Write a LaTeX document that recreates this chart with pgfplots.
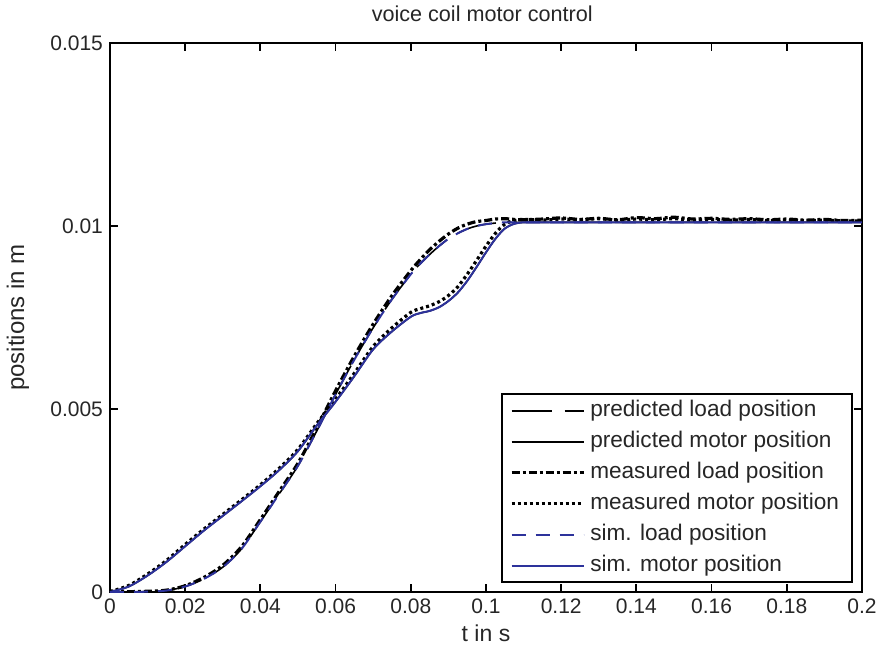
\documentclass[border=0pt]{standalone}
\usepackage{pgfplots}
\usepackage{pgfplotstable}
\pgfplotsset{compat=1.18}
\usepackage{fontspec}
\setmainfont{Liberation Sans}
\definecolor{simblue}{RGB}{45,50,155}

% t, predicted load, predicted motor, measured load, measured motor, sim load, sim motor
\pgfplotstableread{
t      pl       pm       ml       mm       sl       sm
0.000  0.00000  0.00000  0.00002  0.00001  0.00000  0.00000
0.005  0.00000  0.00015  0.00001  0.00018  0.00000  0.00015
0.010  0.00001  0.00045  0.00002  0.00049  0.00001  0.00045
0.015  0.00004  0.00082  0.00005  0.00086  0.00004  0.00082
0.020  0.00015  0.00125  0.00017  0.00130  0.00015  0.00125
0.025  0.00036  0.00168  0.00040  0.00172  0.00036  0.00168
0.030  0.00068  0.00208  0.00073  0.00212  0.00068  0.00208
0.035  0.00118  0.00248  0.00124  0.00252  0.00118  0.00248
0.040  0.00192  0.00289  0.00198  0.00293  0.00192  0.00289
0.045  0.00268  0.00333  0.00275  0.00338  0.00268  0.00333
0.050  0.00345  0.00385  0.00352  0.00390  0.00345  0.00385
0.055  0.00440  0.00455  0.00448  0.00460  0.00440  0.00455
0.060  0.00540  0.00520  0.00550  0.00527  0.00540  0.00520
0.065  0.00635  0.00590  0.00645  0.00598  0.00635  0.00590
0.070  0.00722  0.00663  0.00732  0.00671  0.00722  0.00663
0.075  0.00800  0.00712  0.00810  0.00722  0.00800  0.00712
0.080  0.00868  0.00752  0.00878  0.00764  0.00868  0.00752
0.0825 0.00897  0.00762  0.00908  0.00774  0.00897  0.00762
0.085  0.00922  0.00768  0.00935  0.00782  0.00922  0.00768
0.0875 0.00945  0.00778  0.00958  0.00793  0.00945  0.00778
0.090  0.00965  0.00795  0.00978  0.00810  0.00965  0.00795
0.0925 0.00980  0.00818  0.00994  0.00834  0.00980  0.00818
0.095  0.00992  0.00850  0.01005  0.00868  0.00992  0.00850
0.0975 0.01000  0.00888  0.01012  0.00906  0.01000  0.00888
0.100  0.01005  0.00928  0.01015  0.00945  0.01005  0.00928
0.1025 0.01008  0.00965  0.01019  0.00980  0.01008  0.00965
0.105  0.01010  0.00993  0.01020  0.01005  0.01010  0.00993
0.1075 0.01010  0.01006  0.01018  0.01015  0.01010  0.01006
0.110  0.01010  0.01010  0.01017  0.01018  0.01010  0.01010
0.115  0.01010  0.01010  0.01019  0.01016  0.01010  0.01010
0.120  0.01010  0.01010  0.01022  0.01019  0.01010  0.01010
0.125  0.01010  0.01010  0.01018  0.01017  0.01010  0.01010
0.130  0.01010  0.01010  0.01021  0.01020  0.01010  0.01010
0.135  0.01010  0.01010  0.01017  0.01016  0.01010  0.01010
0.140  0.01010  0.01010  0.01023  0.01019  0.01010  0.01010
0.145  0.01010  0.01010  0.01020  0.01017  0.01010  0.01010
0.150  0.01010  0.01010  0.01024  0.01020  0.01010  0.01010
0.155  0.01010  0.01010  0.01019  0.01016  0.01010  0.01010
0.160  0.01010  0.01010  0.01021  0.01018  0.01010  0.01010
0.165  0.01010  0.01010  0.01018  0.01016  0.01010  0.01010
0.170  0.01010  0.01010  0.01020  0.01018  0.01010  0.01010
0.175  0.01010  0.01010  0.01017  0.01015  0.01010  0.01010
0.180  0.01010  0.01010  0.01019  0.01017  0.01010  0.01010
0.185  0.01010  0.01010  0.01016  0.01014  0.01010  0.01010
0.190  0.01010  0.01010  0.01018  0.01016  0.01010  0.01010
0.195  0.01010  0.01010  0.01015  0.01014  0.01010  0.01010
0.200  0.01010  0.01010  0.01016  0.01014  0.01010  0.01010
}\data

\begin{document}
\begin{tikzpicture}
\useasboundingbox (-55pt,-29pt) rectangle (384.5pt,296pt);
\begin{axis}[
  scale only axis, width=376pt, height=274.5pt,
  xmin=0, xmax=0.2, ymin=0, ymax=0.015,
  xtick={0,0.02,0.04,0.06,0.08,0.1,0.12,0.14,0.16,0.18,0.2},
  xticklabels={0,0.02,0.04,0.06,0.08,0.1,0.12,0.14,0.16,0.18,0.2},
  ytick={0,0.005,0.01,0.015},
  yticklabels={0,0.005,0.01,0.015},
  scaled ticks=false,
  tick align=inside, tick pos=both, major tick length=4pt,
  axis line style={line width=0.9pt},
  every tick/.style={black, line width=0.9pt},
  tick label style={font=\fontsize{10.5}{12}\selectfont, text=black!85},
  every axis title shift=0pt,
  title={voice coil motor control},
  title style={font=\fontsize{10.8}{12}\selectfont, at={(axis description cs:0.495,1.0528)}, anchor=center, text=black!85},
  xlabel={t in s},
  xlabel style={font=\fontsize{11.5}{13}\selectfont, at={(axis description cs:0.5,-0.0747)}, anchor=center, text=black!85},
  ylabel={positions in m},
  ylabel style={font=\fontsize{12}{14}\selectfont, at={(axis description cs:-0.1223,0.5)}, anchor=center, text=black!85},
  legend cell align=left,
  legend image code/.code={\draw[#1] (0pt,0pt) -- (36pt,0pt);},
  legend style={at={(axis description cs:0.988,0.016)}, anchor=south east,
    draw=black, line width=1pt, font=\fontsize{11.3}{13}\selectfont,
    nodes={text height=8pt, text depth=2.5pt, inner sep=2.5pt, text=black!85},
    row sep=0pt, inner xsep=4pt, inner ysep=0.5pt},
]
\addplot[black, line width=0.8pt, dash pattern=on 20pt off 6.5pt, smooth] table[x=t, y=pl] {\data};
\addlegendentry{predicted load position}
\addplot[black, line width=0.8pt, smooth] table[x=t, y=pm] {\data};
\addlegendentry{predicted motor position}
\addplot[black, line width=1.6pt, dash pattern=on 4pt off 1.5pt on 1.5pt off 1.5pt, smooth] table[x=t, y=ml] {\data};
\addlegendentry{measured load position}
\addplot[black, line width=1.6pt, dash pattern=on 1.5pt off 1.5pt, smooth] table[x=t, y=mm] {\data};
\addlegendentry{measured motor position}
\addplot[simblue, line width=1pt, dash pattern=on 7pt off 5pt, smooth] table[x=t, y=sl] {\data};
\addlegendentry{sim. load position}
\addplot[simblue, line width=1pt, smooth] table[x=t, y=sm] {\data};
\addlegendentry{sim. motor position}
\end{axis}
\end{tikzpicture}
\end{document}
